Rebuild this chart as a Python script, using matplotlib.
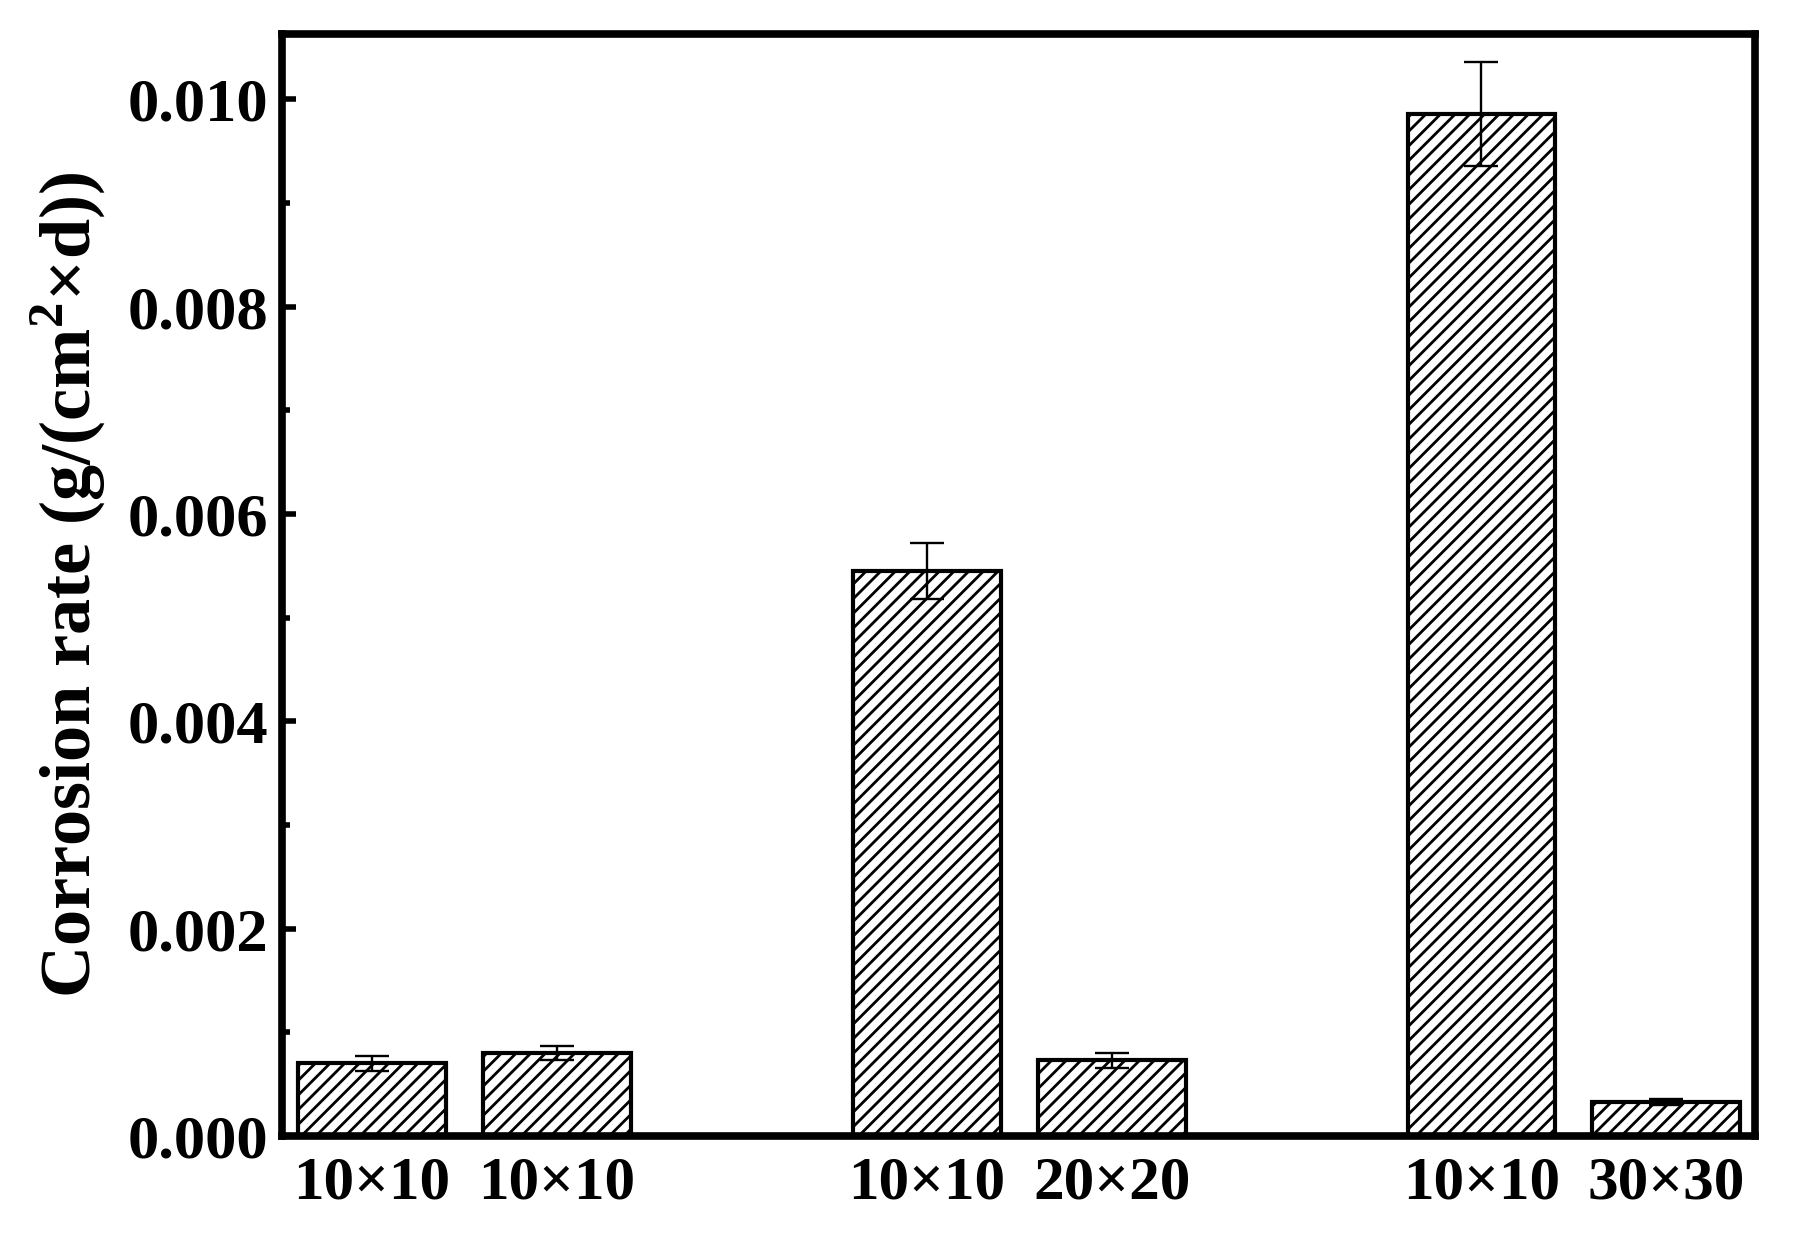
import matplotlib.pyplot as plt
import numpy as np

# bar data
positions = [0, 1, 3, 4, 6, 7]
tick_labels = ["10\u00d710", "10\u00d710", "10\u00d710", "20\u00d720", "10\u00d710", "30\u00d730"]
rates = [0.00070, 0.00080, 0.00545, 0.00073, 0.00986, 0.00033]
errors = [0.00007, 0.00007, 0.00027, 0.00007, 0.00050, 0.00003]

# hatch spacing depends on dpi, so pick dpi to match the reference density
DPI = 88
S = 100 / DPI  # sizes below were tuned for dpi 100


def pt(v):
    return v * S


plt.rcParams["font.family"] = "Liberation Serif"
plt.rcParams["font.weight"] = "bold"
plt.rcParams["mathtext.fontset"] = "custom"
plt.rcParams["mathtext.rm"] = "Liberation Serif"
plt.rcParams["mathtext.bf"] = "Liberation Serif:bold"
plt.rcParams["hatch.linewidth"] = pt(2.0)

fig = plt.figure(figsize=(1799 / DPI, 1258 / DPI), dpi=DPI)
ax = fig.add_axes([0.157, 0.097, 0.8186, 0.876])

ax.bar(positions, rates, width=0.8, color="white", edgecolor="black",
       linewidth=pt(3), hatch="//", zorder=2)
ax.errorbar(positions, rates, yerr=errors, fmt="none", ecolor="black",
            elinewidth=pt(1.7), capsize=pt(12), capthick=pt(1.7), zorder=3)

ax.set_xlim(-0.485, 7.48)
ax.set_ylim(0, 0.01063)
ax.set_yticks([0.000, 0.002, 0.004, 0.006, 0.008, 0.010])
ax.set_yticklabels(["0.000", "0.002", "0.004", "0.006", "0.008", "0.010"])
ax.set_yticks(np.arange(0.001, 0.0105, 0.002), minor=True)
ax.set_xticks(positions)
ax.set_xticklabels(tick_labels)

ax.tick_params(axis="y", which="major", direction="in", length=pt(10), width=pt(4),
               labelsize=pt(45), pad=pt(10))
ax.tick_params(axis="y", which="minor", direction="in", length=pt(6), width=pt(4))
ax.tick_params(axis="x", length=0, labelsize=pt(44), pad=pt(14))
for label in ax.get_xticklabels() + ax.get_yticklabels():
    label.set_fontweight("bold")

for spine in ax.spines.values():
    spine.set_linewidth(pt(5.5))

ax.set_ylabel("Corrosion rate (g/(cm$^\\mathbf{2}$\u00d7d))", fontsize=pt(52),
              fontweight="bold", labelpad=pt(14))

fig.savefig("out.png", dpi=DPI)
